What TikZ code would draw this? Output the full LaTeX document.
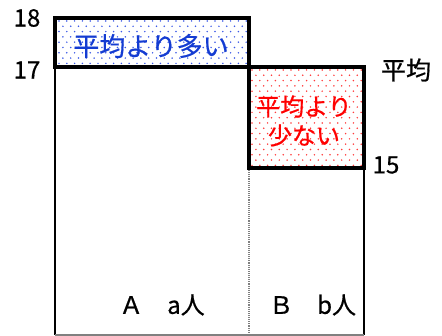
\documentclass[tikz,border=0pt]{standalone}
\usepackage{fontspec}
\setmainfont[FakeBold=0.6,AutoFakeBold=0.6]{Noto Sans CJK JP}
\definecolor{dotblue}{RGB}{60,90,230}
\definecolor{txtblue}{RGB}{20,60,210}
\definecolor{dotred}{RGB}{255,60,60}
\definecolor{txtred}{RGB}{255,0,0}
\tikzset{
  thickbox/.style={draw=black, line width=3.8pt},
  thinline/.style={draw=black, line width=1.3pt},
  lbl/.style={inner sep=0pt, font=\fontsize{24}{26}\selectfont\bfseries},
}
\begin{document}
\begin{tikzpicture}[x=1pt,y=-1pt]
\useasboundingbox (0,0) rectangle (442,336);
% dots blue
\begin{scope}
\clip (55,18) rectangle (249,67);
\foreach \r in {0,...,9} {
  \foreach \c in {0,...,25} {
    \fill[dotblue] ({59+7.8*\c+3.9*mod(\r,2)},{21+5.3*\r}) circle (0.85);
  }
}
\end{scope}
% dots red
\begin{scope}
\clip (249,67) rectangle (364,168);
\foreach \r in {0,...,19} {
  \foreach \c in {0,...,15} {
    \fill[dotred] ({252+7.8*\c+3.9*mod(\r,2)},{70+5.3*\r}) circle (0.85);
  }
}
\end{scope}
% thin outlines
\draw[thinline] (55,67) -- (55,335);
\draw[thinline] (364,168) -- (364,335);
\draw[gray, line width=1.2pt] (55,335) -- (364,335);
\draw[gray, line width=1.1pt, densely dotted] (249,168) -- (249,335);
% thick boxes
\draw[thickbox] (55,18) rectangle (249,67);
\draw[thickbox] (249,67) rectangle (364,168);
% labels
\node[lbl, text=txtblue, font=\fontsize{26}{28}\selectfont\bfseries] (more) at (151,46) {平均より多い};
\node[lbl, text=txtred, align=center, font=\fontsize{24}{29}\selectfont\bfseries] (less) at (304,121) {平均より\\少ない};
\node[lbl, font=\fontsize{25}{27}\selectfont\bfseries] (avg) at (406,70) {平均};
\node[lbl] (n18) at (27,18) {18};
\node[lbl] (n17) at (27,70) {17};
\node[lbl] (n15) at (386,165) {15};
\node[lbl, anchor=west] (A) at (119,305) {Ａ　a人};
\node[lbl, anchor=west] (B) at (269,305) {Ｂ　b人};
\end{tikzpicture}
\end{document}
